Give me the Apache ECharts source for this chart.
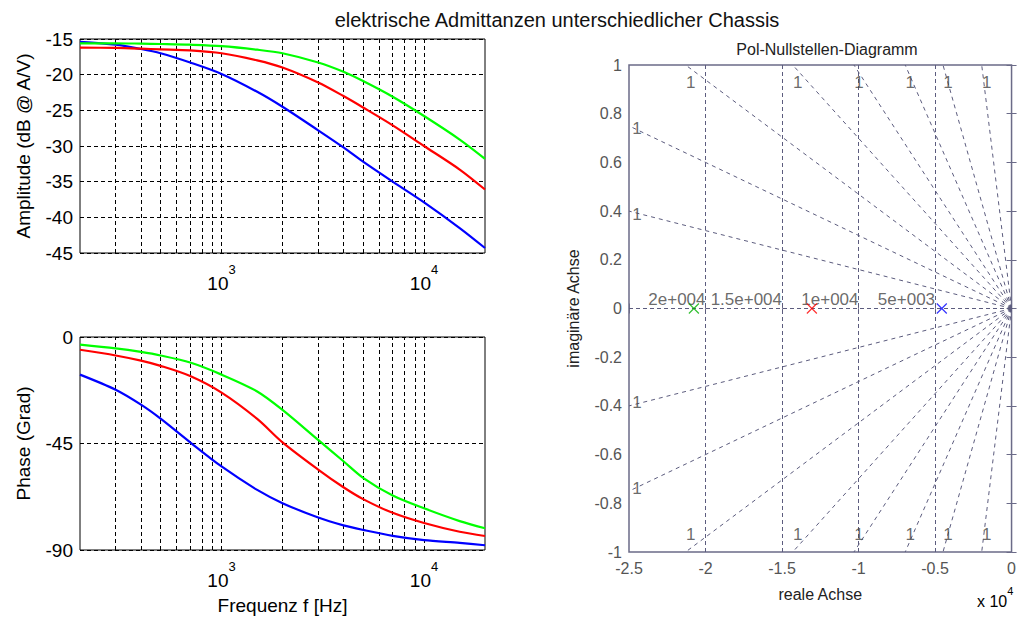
<!DOCTYPE html>
<html>
<head>
<meta charset="utf-8">
<script src="https://cdn.jsdelivr.net/npm/echarts@6/dist/echarts.min.js"></script>
<style>
html, body { margin: 0; padding: 0; background: #fff; }
#chart { width: 1019px; height: 621px; }
</style>
</head>
<body>
<div id="chart"></div>
<script>
// Frequency samples (Hz) of the Bode curves
const freq = [200, 300, 400, 500, 700, 1000, 1500, 2000, 3000, 4000, 5000, 7000, 10000, 15000, 20000];

// Amplitude in dB @ A/V
const magBlue  = [-15.4, -15.8, -16.4, -17.0, -18.3, -19.9, -22.4, -24.5, -27.8, -30.2, -32.2, -35.0, -37.9, -41.5, -44.3];
const magRed   = [-16.2, -16.25, -16.35, -16.45, -16.6, -17.0, -18.0, -19.0, -21.1, -23.0, -24.6, -27.1, -30.0, -33.3, -36.1];
const magGreen = [-15.6, -15.6, -15.65, -15.7, -15.8, -16.0, -16.5, -17.0, -18.3, -19.6, -20.9, -23.1, -25.8, -29.1, -31.8];

// Phase in degrees
const phaseBlue  = [-15.9, -22.3, -28.6, -34.5, -44.5, -54.7, -64.6, -70.2, -76.3, -79.6, -81.5, -84.0, -85.8, -87.0, -88.0];
const phaseRed   = [-5.4, -7.8, -10.0, -12.2, -16.5, -23.5, -34.6, -44.5, -56.0, -63.5, -68.5, -74.3, -78.6, -82.3, -84.1];
const phaseGreen = [-3.2, -4.8, -6.3, -7.8, -10.8, -15.9, -23.0, -30.8, -43.5, -52.5, -59.5, -67.0, -72.4, -77.8, -80.8];

// Log grid lines of the frequency axis
const freqGrid = [300, 400, 500, 600, 700, 800, 900, 1000, 2000, 3000, 4000, 5000, 6000, 7000, 8000, 9000, 10000];

// Poles (real, imag) of the three chassis
const poleBlue  = [-4560, 0];
const poleRed   = [-13050, 0];
const poleGreen = [-20760, 0];

// Natural-frequency grid (rad/s) with their labels
const wnValues = [5000, 10000, 15000, 20000];
const wnLabels = ['5e+003', '1e+004', '1.5e+004', '2e+004'];

// Damping grid: end points of the rays in the upper half plane and their label
const dampRayEnds = [[-25000, 0.40], [-25000, 0.75], [-21300, 1], [-14300, 1], [-10300, 1], [-6950, 1], [-4480, 1], [-1950, 1]];
const dampLabel = '1';

const FONT = '"Liberation Sans", Arial, sans-serif';
const PZ_AXIS = '#6b6b88';
const PZ_TEXT = '#555555';
const PZ_GRID = '#5c5c7e';

const curve = (ys) => freq.map((f, i) => [f, ys[i]]);

function logLabel(v) {
  const e = Math.round(Math.log10(v));
  if (Math.abs(Math.pow(10, e) - v) < 1e-6 * v) return '{b|10}{s|' + e + '}';
  return '';
}

const freqAxis = (gridIndex, extra) => Object.assign({
  type: 'log', logBase: 10, gridIndex, min: 200, max: 20000,
  axisLine: { show: false },
  axisTick: { show: false },
  splitLine: { show: false },
  axisLabel: {
    formatter: logLabel, margin: 10, color: '#000', fontFamily: FONT,
    rich: {
      b: { fontSize: 19, fontFamily: FONT, color: '#000', verticalAlign: 'bottom', lineHeight: 30 },
      s: { fontSize: 13, fontFamily: FONT, color: '#000', verticalAlign: 'top', lineHeight: 14 }
    }
  }
}, extra || {});

const bodeY = (gridIndex, min, max, interval, name) => ({
  type: 'value', gridIndex, min, max, interval,
  name, nameLocation: 'middle', nameGap: 47,
  nameTextStyle: { fontSize: 19, fontFamily: FONT, color: '#000' },
  axisLine: { show: false },
  axisTick: { show: true, inside: true, length: 4, lineStyle: { color: '#000' } },
  splitLine: { show: true, lineStyle: { color: '#000', type: [4, 3], width: 1 } },
  axisLabel: { fontSize: 19, fontFamily: FONT, color: '#000', margin: 7 }
});

const freqGridSeries = (idx) => ({
  type: 'line', xAxisIndex: idx, yAxisIndex: idx, data: [], silent: true,
  markLine: {
    z: 1, silent: true, symbol: 'none', animation: false,
    label: { show: false },
    lineStyle: { color: '#000', type: [4, 3], width: 1 },
    data: freqGrid.map(f => ({ xAxis: f }))
  }
});

const bodeLine = (idx, ys, color) => ({
  type: 'line', xAxisIndex: idx, yAxisIndex: idx, data: curve(ys),
  smooth: 0.3, showSymbol: false, z: 3, animation: false,
  lineStyle: { color, width: 2.2 }
});

// Damping rays, mirrored into the lower half plane
const rays = dampRayEnds.concat(dampRayEnds.map(p => [p[0], -p[1]]));

const rayLabels = rays.map(p => {
  const atEdgeY = Math.abs(p[1]) === 1;
  const dy = atEdgeY ? (p[1] > 0 ? 17 : -18) : (p[1] > 0 ? 3 : -3);
  return {
    value: p,
    label: { offset: [atEdgeY ? 5 : 8, dy] }
  };
});

const poleSeries = (p, color) => ({
  type: 'scatter', xAxisIndex: 2, yAxisIndex: 2, data: [p], z: 6,
  symbol: 'path://M0,0L10,10M10,0L0,10', symbolSize: 10, silent: true,
  itemStyle: { color: 'rgba(0,0,0,0)', borderColor: color, borderWidth: 1.2 }
});

const option = {
  backgroundColor: '#fff',
  animation: false,
  textStyle: { fontFamily: FONT },
  title: [
    { text: 'elektrische Admittanzen unterschiedlicher Chassis', left: 552, top: 5, textAlign: 'center',
      textStyle: { fontSize: 20, fontWeight: 'normal', color: '#111', fontFamily: FONT } },
    { text: 'Pol-Nullstellen-Diagramm', left: 822, top: 36, textAlign: 'center',
      textStyle: { fontSize: 16, fontWeight: 'normal', color: '#222', fontFamily: FONT } }
  ],
  grid: [
    { left: 80, top: 39, width: 405, height: 214, show: true, borderColor: '#000', borderWidth: 1, backgroundColor: '#fff' },
    { left: 80, top: 337, width: 405, height: 213, show: true, borderColor: '#000', borderWidth: 1, backgroundColor: '#fff' },
    { left: 629, top: 65, width: 389, height: 487, show: true, borderColor: PZ_AXIS, borderWidth: 1.5, backgroundColor: '#fff' }
  ],
  xAxis: [
    freqAxis(0),
    freqAxis(1, { name: 'Frequenz f [Hz]', nameLocation: 'middle', nameGap: 46,
      nameTextStyle: { fontSize: 19, fontFamily: FONT, color: '#000' } }),
    { type: 'value', gridIndex: 2, min: -25000, max: 0, interval: 5000,
      name: 'reale Achse', nameLocation: 'middle', nameGap: 34,
      nameTextStyle: { fontSize: 16, fontFamily: FONT, color: '#222' },
      axisLine: { show: false },
      axisTick: { show: true, inside: true, length: 5, lineStyle: { color: PZ_AXIS } },
      splitLine: { show: false },
      axisLabel: { fontSize: 16, fontFamily: FONT, color: PZ_TEXT, margin: 8,
        formatter: v => String(+(v / 10000).toFixed(2)) } },
    { type: 'value', gridIndex: 2, min: -25000, max: 0, interval: 5000, position: 'top',
      axisLine: { show: false }, axisLabel: { show: false }, splitLine: { show: false },
      axisTick: { show: true, inside: true, length: 5, lineStyle: { color: PZ_AXIS } } }
  ],
  yAxis: [
    bodeY(0, -45, -15, 5, 'Amplitude (dB @ A/V)'),
    bodeY(1, -90, 0, 45, 'Phase (Grad)'),
    { type: 'value', gridIndex: 2, min: -1, max: 1, interval: 0.2,
      name: 'imaginäre Achse', nameLocation: 'middle', nameGap: 48,
      nameTextStyle: { fontSize: 16, fontFamily: FONT, color: '#222' },
      axisLine: { show: false },
      axisTick: { show: true, inside: true, length: 5, lineStyle: { color: PZ_AXIS } },
      splitLine: { show: false },
      axisLabel: { fontSize: 16, fontFamily: FONT, color: PZ_TEXT, margin: 7,
        formatter: v => String(+v.toFixed(1)) } },
    { type: 'value', gridIndex: 2, min: -1, max: 1, interval: 0.2, position: 'right',
      axisLine: { show: false }, axisLabel: { show: false }, splitLine: { show: false },
      axisTick: { show: true, inside: true, length: 5, lineStyle: { color: PZ_AXIS } } }
  ],
  graphic: [
    { type: 'text', left: 977, top: 585,
      style: { text: '{a|x 10}{e|4}', fontFamily: FONT,
        rich: { a: { fontSize: 16, color: PZ_TEXT, verticalAlign: 'bottom', lineHeight: 24 },
                e: { fontSize: 11, color: PZ_TEXT, verticalAlign: 'top', lineHeight: 12 } } } }
  ],
  series: [
    // Amplitude
    freqGridSeries(0),
    bodeLine(0, magBlue, '#0000ff'),
    bodeLine(0, magRed, '#ff0000'),
    bodeLine(0, magGreen, '#00ff00'),
    // Phase
    freqGridSeries(1),
    bodeLine(1, phaseBlue, '#0000ff'),
    bodeLine(1, phaseRed, '#ff0000'),
    bodeLine(1, phaseGreen, '#00ff00'),
    // s-plane grid: damping rays, natural-frequency lines and real axis
    { type: 'lines', coordinateSystem: 'cartesian2d', xAxisIndex: 2, yAxisIndex: 2, silent: true, z: 2,
      lineStyle: { color: PZ_GRID, width: 1, type: [4, 4], opacity: 1 },
      data: rays.map(p => ({ coords: [[0, 0], p] })),
      markLine: {
        z: 2, silent: true, symbol: 'none', animation: false, label: { show: false },
        lineStyle: { color: PZ_GRID, type: [4, 3], width: 1 },
        data: wnValues.map(w => ({ xAxis: -w })).concat([{ yAxis: 0 }])
      } },
    // natural-frequency labels
    { type: 'scatter', xAxisIndex: 2, yAxisIndex: 2, symbolSize: 0, silent: true, z: 4,
      data: wnValues.map((w, i) => ({ value: [-w, 0], name: wnLabels[i] })),
      label: { show: true, position: 'inside', align: 'right', verticalAlign: 'bottom', offset: [0, -1],
        formatter: p => p.name, fontSize: 17, fontFamily: FONT, color: '#444' } },
    // damping labels
    { type: 'scatter', xAxisIndex: 2, yAxisIndex: 2, symbolSize: 0, silent: true, z: 4,
      data: rayLabels,
      label: { show: true, position: 'inside', formatter: dampLabel, fontSize: 17, fontFamily: FONT, color: '#444' } },
    poleSeries(poleGreen, '#00b000'),
    poleSeries(poleRed, '#ff0000'),
    poleSeries(poleBlue, '#0000ff')
  ]
};

const chart = echarts.init(document.getElementById('chart'), null, { renderer: 'svg' });
chart.setOption(option);
</script>
</body>
</html>
